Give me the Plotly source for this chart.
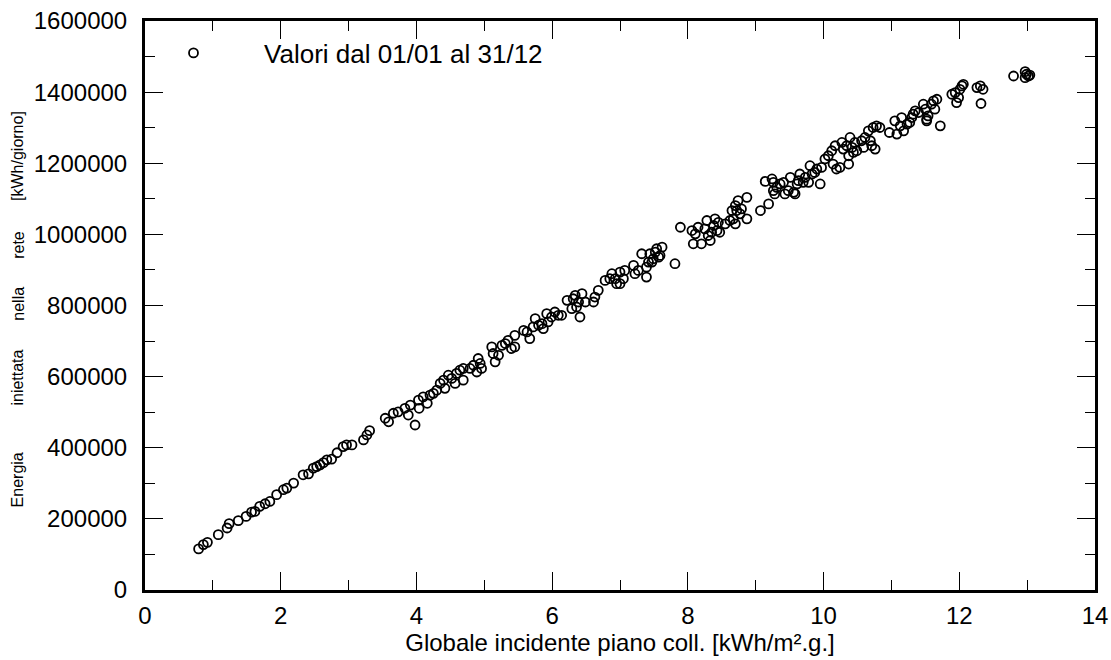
import plotly.graph_objects as go

# irradiazione globale sul piano dei collettori [kWh/m2.g]
x_vals = [
    0.79, 0.86, 0.92, 1.08, 1.21, 1.24, 1.375, 1.49, 1.57, 1.62, 1.69, 1.77, 1.84, 1.94,
    2.04, 2.09, 2.19, 2.33, 2.41, 2.48, 2.53, 2.58, 2.63, 2.68, 2.75, 2.83, 2.92, 2.97,
    3.05, 3.22, 3.27, 3.31, 3.54, 3.59, 3.66, 3.73, 3.83, 3.91, 3.88, 3.98, 4.03, 4.04,
    4.10, 4.16, 4.20, 4.25, 4.30, 4.35, 4.40, 4.42, 4.47, 4.52, 4.57, 4.59, 4.64, 4.69,
    4.69, 4.79, 4.84, 4.89, 4.91, 4.94, 4.96,
    5.11, 5.13, 5.16, 5.21, 5.26, 5.31, 5.35, 5.40, 5.45, 5.45,
    5.58, 5.63, 5.67, 5.72, 5.75, 5.80, 5.85, 5.87, 5.92, 5.94, 5.99, 6.04, 6.09, 6.14,
    6.22, 6.29, 6.31, 6.34, 6.36, 6.39, 6.41, 6.44, 6.49, 6.61, 6.63, 6.68,
    6.78, 6.85, 6.88, 6.93, 6.95, 7.00, 7.00, 7.05, 7.07,
    7.20, 7.22, 7.27, 7.32, 7.39, 7.39, 7.42, 7.44, 7.47, 7.49, 7.52, 7.54, 7.57, 7.59,
    7.62, 7.81,
    7.89, 8.06, 8.08, 8.11, 8.15, 8.20, 8.25, 8.28, 8.30, 8.33, 8.35, 8.38, 8.40, 8.43,
    8.47, 8.45, 8.55, 8.62, 8.67, 8.70, 8.65, 8.70, 8.72, 8.74, 8.77, 8.79, 8.87, 8.87,
    9.07, 9.19, 9.14, 9.24, 9.26, 9.26, 9.28, 9.31, 9.36, 9.41, 9.43, 9.48, 9.51, 9.56,
    9.58, 9.61, 9.63, 9.65, 9.70, 9.73, 9.78, 9.80, 9.83, 9.87, 9.90, 9.95, 9.97, 10.02,
    10.07, 10.14, 10.19,
    10.12, 10.17, 10.24, 10.27, 10.29, 10.34, 10.37, 10.37, 10.39, 10.42, 10.44, 10.46,
    10.49, 10.56, 10.59, 10.61, 10.66, 10.69, 10.71, 10.73, 10.76, 10.78, 10.83,
    10.97, 11.05, 11.08, 11.13, 11.15, 11.18, 11.23, 11.27, 11.30, 11.32, 11.35, 11.40,
    11.47, 11.50, 11.52, 11.54, 11.59, 11.62, 11.64, 11.67, 11.52, 11.72,
    11.89, 11.94, 11.96, 11.99, 12.01, 12.04, 12.06, 12.26, 12.31, 12.35, 12.32,
    12.80, 12.97, 12.99, 13.02, 12.97, 13.04,
]

# energia immessa in rete [kWh/giorno]
y_vals = [
    115500, 127600, 134000, 155600, 174400, 186500, 195000, 207000, 219000, 221000, 235000, 242500, 249000, 268000,
    282000, 286600, 300600, 324000, 326700, 342600, 347000, 352000, 358000, 366000, 368000, 386000, 403000, 408000,
    408000, 422000, 436000, 448000, 483000, 473000, 497000, 501000, 511000, 520000, 492000, 464000, 534000, 511000,
    543000, 525000, 548000, 553000, 562000, 581000, 590000, 567000, 604000, 595000, 581000, 609000, 618000, 590000,
    623000, 623000, 632000, 613000, 651000, 637000, 623000,
    683600, 665000, 641600, 660000, 688000, 693000, 702000, 679000, 716000, 683600,
    730000, 725600, 707000, 739700, 763000, 744500, 749000, 735000, 777000, 753700, 767700, 781700, 772500, 772500,
    814500, 791000, 819000, 828600, 795800, 809800, 767700, 833300, 809800, 809800, 823800, 842600,
    870600, 875400, 889400, 875400, 861400, 893900, 861400, 875400, 898600,
    912700, 889400, 898600, 945500, 879900, 907900, 922000, 945500, 922000, 931500, 950000, 959600, 936000, 940700,
    964000, 917500,
    1020000, 1010800, 973500, 1001600, 1020000, 973500, 1015600, 1039000, 996800, 982800, 1006000, 1025000, 1043600, 1010800,
    1006000, 1034000, 1029600, 1039000, 1043600, 1029600, 1067000, 1081000, 1067000, 1095000, 1057700, 1071700, 1104200, 1043600,
    1067000, 1085700, 1149000, 1155800, 1146400, 1123000, 1113800, 1132300, 1141800, 1146400, 1113800, 1123000, 1160300, 1118200,
    1113800, 1141800, 1151000, 1169800, 1146400, 1160300, 1146400, 1193100, 1169800, 1174300, 1183800, 1141800, 1188400, 1211900,
    1221100, 1197800, 1183800,
    1235200, 1249200, 1188400, 1258500, 1239900, 1249200, 1221100, 1197800, 1272500, 1244500, 1230500, 1258500,
    1235200, 1263200, 1244500, 1272500, 1291200, 1263200, 1249200, 1300500, 1239900, 1305200, 1300500,
    1286500, 1319300, 1282000, 1305200, 1328500, 1291200, 1310000, 1314600, 1328500, 1338000, 1347300, 1342600,
    1366000, 1352000, 1324000, 1333300, 1366000, 1375400, 1352000, 1380000, 1319300, 1305200,
    1394000, 1398700, 1370600, 1384600, 1408000, 1417400, 1422000, 1412700, 1417400, 1408000, 1368000,
    1445400, 1457600, 1450200, 1445400, 1440700, 1448000,
]

x_ticks = [0, 2, 4, 6, 8, 10, 12, 14]
y_ticks = [0, 200000, 400000, 600000, 800000, 1000000, 1200000, 1400000, 1600000]
y_ticktext = [str(v) for v in y_ticks]

FONT = "Liberation Sans, Arial, sans-serif"
NB = "\u00a0"

fig = go.Figure()
fig.add_trace(go.Scatter(
    x=x_vals, y=y_vals, mode="markers",
    name=NB * 7 + "Valori dal 01/01 al 31/12",
    marker=dict(symbol="circle-open", size=9, color="black", line=dict(width=1.8, color="black")),
))

axis_common = dict(
    showline=True, linewidth=3, linecolor="black", mirror="ticks",
    ticks="inside", ticklen=18, tickwidth=1.3, tickcolor="black",
    showgrid=False, zeroline=False, automargin=False,
    tickfont=dict(family=FONT, size=24, color="black"),
)

fig.update_layout(
    width=1111, height=660,
    margin=dict(l=145, r=16, t=21, b=70),
    paper_bgcolor="white", plot_bgcolor="white",
    font=dict(family=FONT, color="black"),
    showlegend=True,
    legend=dict(x=0.03, y=0.985, xanchor="left", yanchor="top",
                bgcolor="rgba(0,0,0,0)", font=dict(family=FONT, size=26)),
    xaxis=dict(range=[0, 14], tickvals=x_ticks, ticklabelstandoff=2,
               minor=dict(ticks="inside", ticklen=10, tickwidth=1.3, tickcolor="black", dtick=1),
               title=dict(text="Globale incidente piano coll. [kWh/m².g.]",
                          font=dict(family=FONT, size=24), standoff=4),
               **axis_common),
    yaxis=dict(range=[0, 1600000], tickvals=y_ticks, ticktext=y_ticktext, ticklabelstandoff=10,
               minor=dict(ticks="inside", ticklen=10, tickwidth=1.3, tickcolor="black", dtick=100000),
               **axis_common),
)

# titolo asse y: parole spaziate come nell'originale
y_words = ["Energia", "iniettata", "nella", "rete", "[kWh/giorno]"]
y_pos = [480, 378, 304, 245, 156]
for w, py in zip(y_words, y_pos):
    fig.add_annotation(text=w, textangle=-90, showarrow=False,
                       xref="paper", yref="paper", x=-0.134, xanchor="center",
                       y=(590.5 - py) / 570, yanchor="middle",
                       font=dict(family=FONT, size=16, color="black"))

fig.write_html("out.html", config={"displayModeBar": False},
               post_script="document.body.style.margin='0px';")
